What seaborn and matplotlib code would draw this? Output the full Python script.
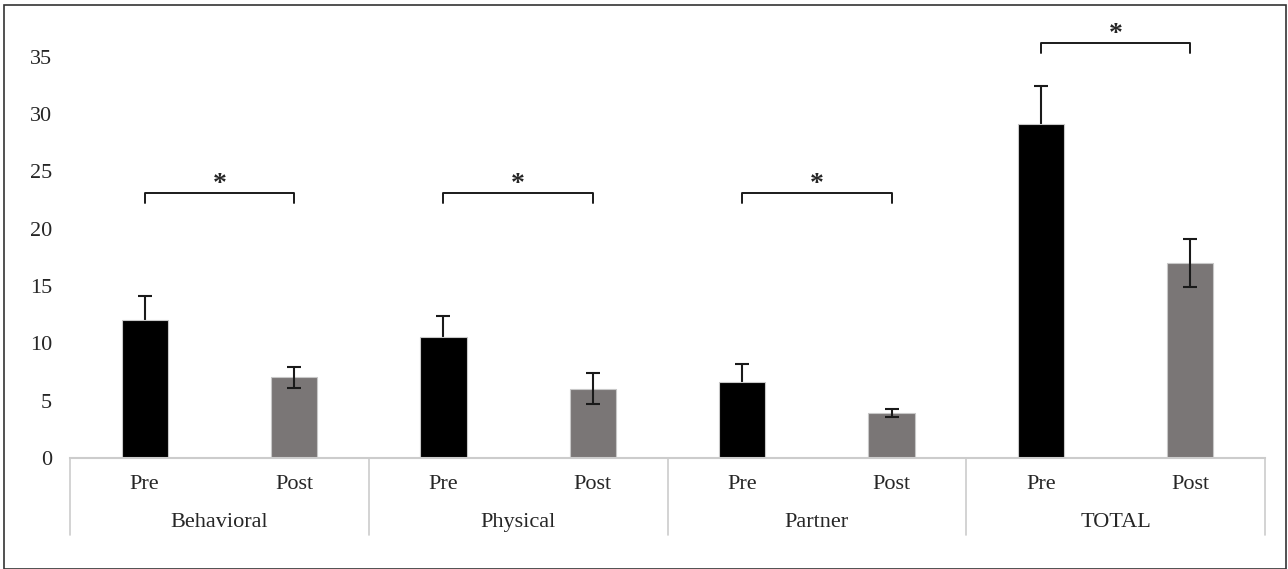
import numpy as np
import pandas as pd
import seaborn as sns
import matplotlib.pyplot as plt
from matplotlib.patches import Rectangle

groups = ["Behavioral", "Physical", "Partner", "TOTAL"]
times = ["Pre", "Post"]
pre_mean = [12.0, 10.55, 6.6, 29.15]
post_mean = [7.05, 6.05, 3.95, 17.0]
pre_err = [2.1, 1.8, 1.6, 3.3]
post_err = [0.9, 1.35, 0.35, 2.1]
bracket_y = [23.1, 23.1, 23.1, 36.2]
yticks = [0, 5, 10, 15, 20, 25, 30, 35]

sns.set_style("white")
plt.rcParams['font.family'] = ['Liberation Serif', 'DejaVu Serif']

rows = []
for i, g in enumerate(groups):
    rows.append({"slot": g + " Pre", "time": "Pre", "score": pre_mean[i], "err": pre_err[i]})
    rows.append({"slot": g + " Post", "time": "Post", "score": post_mean[i], "err": post_err[i]})
df = pd.DataFrame(rows)
df["pos"] = np.arange(len(df))

fig = plt.figure(figsize=(12.88, 5.69), dpi=100)
ax = fig.add_axes([70 / 1288, 1 - 458 / 569, (1265 - 70) / 1288, (458 - 22.5) / 569])

sns.barplot(data=df, x="slot", y="score", hue="time", palette={"Pre": "#000000", "Post": "#7b7575"},
            dodge=False, width=0.31, edgecolor="#c8c8c8", linewidth=0.8, legend=False, ax=ax)

# Pre error bars sit behind the black bars (only the upper half shows), Post ones on top
pre = df[df["time"] == "Pre"]
post = df[df["time"] == "Post"]
ax.errorbar(pre["pos"], pre["score"], yerr=pre["err"], fmt="none", ecolor="#1a1a1a",
            elinewidth=1.5, capsize=5, capthick=1.5, zorder=0.5)
ax.errorbar(post["pos"], post["score"], yerr=post["err"], fmt="none", ecolor="#1a1a1a",
            elinewidth=1.5, capsize=5, capthick=1.5, zorder=5)

ax.set_ylim(0, 38)
ax.set_xlim(-0.5, len(df) - 0.5)
ax.set_yticks(yticks)
ax.set_yticklabels([str(t) for t in yticks], fontsize=16)
ax.tick_params(axis="y", length=0, pad=13)
ax.set_xticks([])
ax.set_xlabel("")
ax.set_ylabel("")
for s in ["left", "right", "top"]:
    ax.spines[s].set_visible(False)
ax.spines["bottom"].set_color("#cccccc")
ax.spines["bottom"].set_linewidth(1.5)

# two-level category axis
trans = ax.get_xaxis_transform()
for k in range(len(groups) + 1):
    ax.plot([2 * k - 0.5, 2 * k - 0.5], [0, -0.177], color="#cccccc", lw=1.2,
            transform=trans, clip_on=False)
for i, g in enumerate(groups):
    for j, t in enumerate(times):
        ax.text(2 * i + j, -0.06, t, transform=trans, ha="center", va="center", fontsize=16)
    ax.text(2 * i + 0.5, -0.147, g, transform=trans, ha="center", va="center", fontsize=16)

# significance brackets
for i in range(len(groups)):
    x0, x1, y = 2 * i, 2 * i + 1, bracket_y[i]
    ax.plot([x0, x0, x1, x1], [y - 0.85, y, y, y - 0.85], color="#1a1a1a", lw=1.4, clip_on=False)
    ax.text(2 * i + 0.5, y - 0.35, "*", ha="center", va="bottom", fontsize=20,
            fontweight="bold", clip_on=False)

fig.patches.append(Rectangle((4 / 1288, 0), 1282 / 1288, 1 - 5 / 569, transform=fig.transFigure,
                             fill=False, edgecolor="#333333", lw=1.2))

fig.savefig("out.png", dpi=100)
